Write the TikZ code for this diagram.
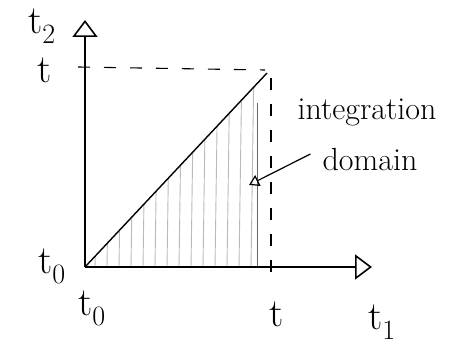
\documentclass[tikz,border=0pt]{standalone}
\usetikzlibrary{arrows.meta}
\begin{document}
\begin{tikzpicture}[x=1pt,y=-1pt,
  axis/.style={line width=1.6pt,-{Triangle[open,length=17pt,width=25pt,line width=1.6pt]}},
  pointer/.style={line width=1.2pt,-{Triangle[open,length=10pt,width=12pt,line width=1.2pt]}},
  lbl/.style={font=\fontsize{40}{40}\selectfont, inner sep=0pt},
  txt/.style={font=\fontsize{32}{32}\selectfont, inner sep=0pt},
  guide/.style={line width=1.1pt, dash pattern=on 12pt off 14pt},
  hatch/.style={gray!55, line width=0.9pt}]
\useasboundingbox (0,0) rectangle (455,352);
\coordinate (O) at (85,267);
\coordinate (Y) at (85,20);
\coordinate (X) at (372,267);
\coordinate (D) at (267,73);
\coordinate (Ty) at (78,67);
\coordinate (Tyend) at (265,70);
\coordinate (Tx) at (271,78);
\coordinate (Txend) at (271,278);
% hatching of the integration domain
\begin{scope}
  \clip (O) -- (D) -- (257,78) -- (257,267) -- cycle;
  \foreach \xx in {95,107,...,255}{
    \draw[hatch] (\xx,268) -- (\xx+3,60);
  }
\end{scope}
\draw[line width=0.8pt, gray!80!black] (257,103) -- (257,267);
% axes
\draw[axis] (O) -- (Y);
\draw[axis] (O) -- (X);
% diagonal
\draw[line width=1.4pt] (O) -- (D);
% guides
\draw[guide] (Ty) -- (Tyend);
\draw[guide] (Tx) -- (Txend);
% labels
\node[lbl] (t2) at (42,26) {t\textsubscript{2}};
\node[lbl] (ty) at (45,70) {t};
\node[lbl] (t0l) at (52,266) {t\textsubscript{0}};
\node[lbl] (t0b) at (92,308) {t\textsubscript{0}};
\node[lbl] (tb) at (277,314) {t};
\node[lbl] (t1) at (382,322) {t\textsubscript{1}};
\node[txt] (integ) at (367,112) {integration};
\node[txt] (dom) at (370,160) {domain};
\coordinate (P) at (249,185);
\draw[pointer] (dom.west) ++(-12,-6) -- (P);
\end{tikzpicture}
\end{document}
